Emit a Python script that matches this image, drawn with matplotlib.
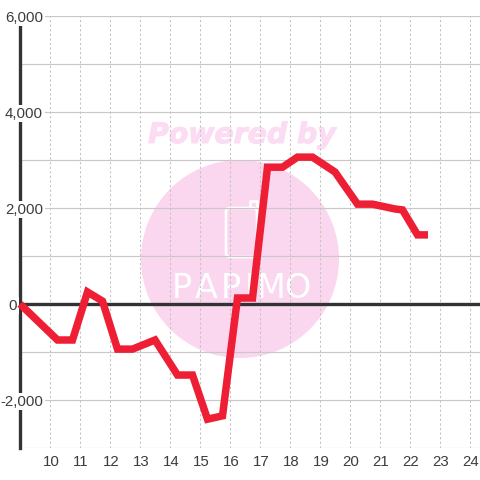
# plot.py
# Line chart with watermark, saved as out.png

import matplotlib
matplotlib.use("Agg")
import matplotlib.pyplot as plt
import matplotlib.patheffects as pe
from matplotlib.patches import Circle, FancyBboxPatch
from matplotlib.lines import Line2D
from matplotlib.transforms import Affine2D, ScaledTranslation

hours = [9, 10.25, 10.75, 11.25, 11.75, 12.25, 12.75, 13.5, 14.25, 14.75, 15.25, 15.75,
	16.25, 16.75, 17.25, 17.75, 18.25, 18.75, 19.5, 20.25, 20.75, 21.5, 21.75, 22.25, 22.6]
values = [0, -750, -750, 250, 60, -940, -940, -750, -1480, -1480, -2400, -2330,
	125, 125, 2850, 2850, 3060, 3060, 2750, 2080, 2080, 1980, 1960, 1440, 1440]
x_ticks = list(range(10, 25))
y_grid = [-3000, -2000, -1000, 0, 1000, 2000, 3000, 4000, 5000, 6000]
y_labels = {6000: "6,000", 4000: "4,000", 2000: "2,000", 0: "0", -2000: "-2,000"}

TEXT = "#3c3c3c"
DARK = "#333333"
PINK = "#fbd6ef"

plt.rcParams["font.family"] = ["Liberation Sans", "DejaVu Sans"]

fig = plt.figure(figsize=(4.8, 4.8), dpi=100, facecolor="white")
ax = fig.add_axes([20 / 480, 32 / 480, 460 / 480, 432 / 480])
ax.set_xlim(9, 9 + 460 / 30)
ax.set_ylim(-3000, 6000)
ax.set_axisbelow(True)
for side in ax.spines:
	ax.spines[side].set_visible(False)

ax.set_xticks(x_ticks)
ax.set_yticks(y_grid)
ax.set_yticklabels([])
ax.tick_params(axis="both", length=0)
ax.tick_params(axis="x", labelsize=10.8, labelcolor=TEXT, pad=5)
ax.grid(axis="x", color="#c4c4c4", linewidth=0.75, linestyle=(0, (2.2, 2.2)))
ax.grid(axis="y", color="#c8c8c8", linewidth=0.85)

# nudge the hour labels one pixel right of their gridlines
nudge = ScaledTranslation(1 / 100, 0, fig.dpi_scale_trans)
for tick_label in ax.get_xticklabels():
	tick_label.set_transform(tick_label.get_transform() + nudge)

# watermark, placed in picture pixels
px = Affine2D().scale(1 / 480, -1 / 480).translate(0, 1) + fig.transFigure
ax.add_patch(Circle((240, 259), 99, transform=px, facecolor=PINK, edgecolor="none", zorder=0.1, clip_on=False))
ax.text(242, 135, "Powered by", transform=px, color="#fcdcf2", fontsize=20.4, ha="center", va="center",
	family="DejaVu Sans", weight="bold", style="oblique", zorder=0.1,
	path_effects=[pe.withStroke(linewidth=0.8, foreground="#fcdcf2")])
ax.add_patch(FancyBboxPatch((226, 208), 31, 49, boxstyle="round,pad=0,rounding_size=4", transform=px,
	facecolor="none", edgecolor="white", linewidth=1.9, zorder=0.2, clip_on=False))
ax.add_line(Line2D([250, 250, 257, 257], [207, 201, 201, 207], transform=px, color="white", linewidth=1.9, zorder=0.2))
for letter, letter_x in zip("PAPIMO", [182, 206, 231, 250, 271, 297]):
	ax.text(letter_x, 289, letter, transform=px, color="white", fontsize=24, ha="center", va="center",
		family="Liberation Sans Narrow", zorder=0.2)

# left axis sits under the tick label boxes, zero line over the grid
ax.axvline(9, color=DARK, linewidth=2.4, zorder=0.6, clip_on=False)
ax.axhline(0, color=DARK, linewidth=2.4, zorder=1)

for val, label in y_labels.items():
	# the zero label is the only one left of the axis line
	offset = -3 if val == 0 else 23
	ax.annotate(label, (0, val), xycoords=ax.get_yaxis_transform(), xytext=(offset * 0.72, 0), textcoords="offset points",
		ha="right", va="center_baseline", fontsize=10.8, color=TEXT, zorder=1.5,
		bbox=dict(facecolor="white", edgecolor="none", pad=1.2))

ax.plot(hours, values, color="#ee1f35", linewidth=5.4, solid_joinstyle="miter", solid_capstyle="butt", zorder=2, clip_on=False)

fig.savefig("out.png", dpi=100)
